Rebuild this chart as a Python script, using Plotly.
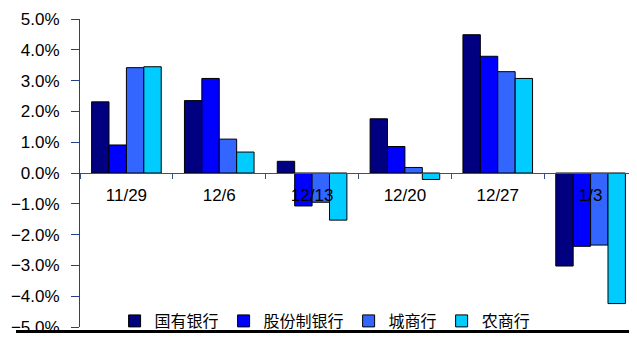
import plotly.graph_objects as go

categories = ["11/29", "12/6", "12/13", "12/20", "12/27", "1/3"]
series_names = ["国有银行", "股份制银行", "城商行", "农商行"]
guoyou = [2.31, 2.35, 0.38, 1.76, 4.49, -3.02]
gufen = [0.91, 3.07, -1.07, 0.86, 3.79, -2.38]
chengshang = [3.42, 1.10, -0.95, 0.18, 3.29, -2.34]
nongshang = [3.45, 0.68, -1.53, -0.21, 3.07, -4.24]
y_ticks = [-5, -4, -3, -2, -1, 0, 1, 2, 3, 4, 5]

series_values = [guoyou, gufen, chengshang, nongshang]
colors = ["#000080", "#0000FF", "#3366FF", "#00CCFF"]

fig = go.Figure()
for name, vals, c in zip(series_names, series_values, colors):
    fig.add_trace(go.Bar(
        x=categories, y=[v / 100 for v in vals], name=name,
        marker=dict(color=c, line=dict(color="#000000", width=1)),
    ))

# page body has an 8px default margin, so the figure is sized to fit inside it
W, H = 629, 330
L, R, T, B = 72, 0, 11, 7
axis_col = "#24408A"

fig.update_layout(
    width=W, height=H,
    margin=dict(l=L, r=R, t=T, b=B, pad=0),
    template="none",
    paper_bgcolor="white", plot_bgcolor="white",
    barmode="group", bargap=0.25, bargroupgap=0,
    font=dict(family="Liberation Sans, Arial", size=17, color="#000000"),
    showlegend=True,
    legend=dict(
        orientation="h", x=0.44, xanchor="center", y=0.018, yanchor="middle",
        font=dict(family="Noto Sans CJK SC", size=16, color="#000000"),
        bgcolor="rgba(0,0,0,0)", traceorder="normal",
    ),
    xaxis=dict(
        type="category", anchor="free", position=0.5,
        showline=True, linecolor="#3B4E7E", linewidth=1,
        ticks="outside", tickson="boundaries", ticklen=5, tickcolor="#3B4E7E",
        showgrid=False, zeroline=False, automargin=False,
        ticklabelstandoff=7,
        tickfont=dict(family="Liberation Sans, Arial", size=17),
    ),
    yaxis=dict(
        range=[-0.05, 0.05], tickvals=[v / 100 for v in y_ticks], tickformat=".1%",
        showline=True, linecolor=axis_col, linewidth=1,
        ticks="outside", ticklen=8, tickcolor=axis_col,
        showgrid=False, zeroline=False, automargin=False,
        ticklabelstandoff=8,
        tickfont=dict(family="Liberation Sans, Arial", size=17),
    ),
)

plot_w = W - L - R
plot_h = H - T - B
line_y = 327.5
fig.add_shape(
    type="line", xref="paper", yref="paper",
    x0=(8 - L) / plot_w, x1=1.02,
    y0=(H - B - line_y) / plot_h, y1=(H - B - line_y) / plot_h,
    line=dict(color="#000000", width=3), layer="above",
)

fig.write_html("out.html")
